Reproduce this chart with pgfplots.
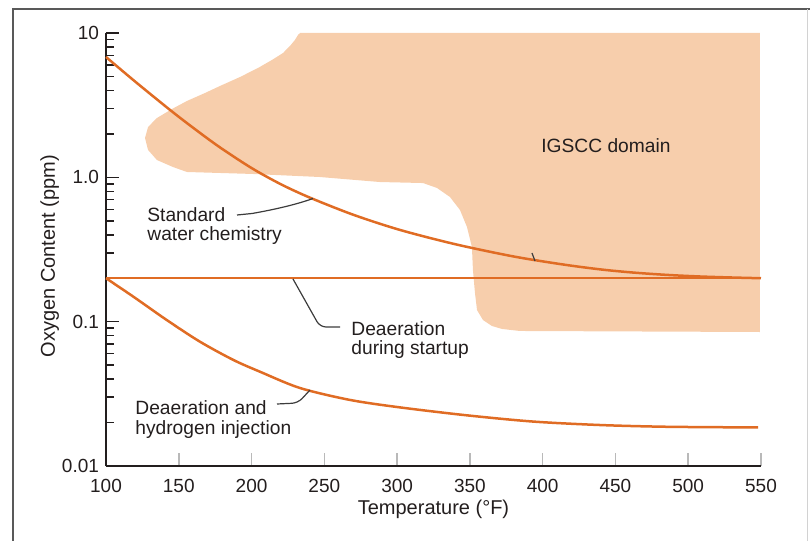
\documentclass[border=0pt]{standalone}
\usepackage{pgfplots}
\pgfplotsset{compat=1.18}
\usepackage{fontspec}
\setmainfont{Liberation Sans}

\definecolor{curve}{RGB}{224,108,36}
\definecolor{domain}{RGB}{247,206,172}
\definecolor{ink}{RGB}{35,30,30}
\definecolor{pointer}{RGB}{60,60,60}
\newcommand{\annfont}{\fontsize{9.6}{11}\selectfont}

\begin{document}
\begin{tikzpicture}
\begin{axis}[
  at={(0,0)}, anchor=south west,
  scale only axis, width=327.5pt, height=216.5pt,
  xmin=100, xmax=550, ymin=0.01, ymax=10, ymode=log,
  clip=false,
  axis x line*=bottom, axis y line*=left,
  axis line style={-, line width=1pt, ink},
  xtick={100,150,...,550},
  ytick={0.01,0.1,1,10}, yticklabels={0.01,0.1,1.0,10},
  minor ytick={0.02,0.03,0.04,0.05,0.06,0.07,0.08,0.09,
               0.2,0.3,0.4,0.5,0.6,0.7,0.8,0.9,
               2,3,4,5,6,7,8,9},
  tick align=inside,
  major tick length=6.5pt, minor tick length=4pt,
  xtick style={gray!55, line width=0.8pt},
  ytick style={ink, line width=0.8pt},
  /pgf/number format/assume math mode=true,
  ticklabel style={font=\fontsize{9.5}{11}\selectfont, text=ink},
  xticklabel style={yshift=-3.3pt},
  xlabel={Temperature (°F)},
  ylabel={Oxygen Content (ppm)},
  label style={font=\fontsize{10}{12}\selectfont, text=ink},
  xlabel style={at={(axis description cs:0.5,-0.111)}, anchor=base},
  ylabel style={at={(axis description cs:-0.0779,0.485)}, anchor=base, rotate=0},
]

% IGSCC domain
\addplot[fill=domain, draw=none] coordinates {
  (233.3,10) (549.3,10) (549.3,0.0848) (384.4,0.0862) (372.1,0.0890)
  (365.2,0.0933) (359.0,0.1027) (354.9,0.1204) (353.5,0.158) (352.1,0.228)
  (351.4,0.329) (348.0,0.453) (343.2,0.594) (336.3,0.731) (327.4,0.844)
  (317.8,0.913) (288.2,0.928) (247.0,1.005) (201.0,1.055) (155.6,1.089)
  (146.0,1.179) (135.0,1.318) (128.9,1.547) (126.8,1.873) (128.9,2.233)
  (135.0,2.577) (145.3,2.975) (155.6,3.380) (168.0,3.840) (178.3,4.294)
  (192.1,4.957) (204.4,5.722) (214.0,6.501) (221.6,7.267) (226.4,8.127)
  (229.8,8.944) (231.9,9.685)
} -- cycle;

% Standard water chemistry
\addplot[curve, line width=1.25pt, smooth] coordinates {
  (100,6.82) (120,4.61) (144,2.93) (160,2.20) (178,1.62) (200,1.16)
  (220,0.897) (240,0.724) (270,0.550) (302,0.432) (340,0.344)
  (380,0.283) (414,0.249) (440,0.230) (462,0.219) (485,0.211)
  (508,0.2056) (530,0.2023) (550,0.2)
};

% Deaeration during startup
\addplot[curve, line width=1.25pt] coordinates {(100,0.2) (550,0.2)};

% Deaeration and hydrogen injection
\addplot[curve, line width=1.25pt, smooth] coordinates {
  (100,0.2) (118.8,0.149) (141.7,0.1027) (164.6,0.0726) (187.5,0.0543)
  (205.8,0.045) (233.3,0.0347) (267.6,0.0287) (302,0.02547) (348,0.02244)
  (393.4,0.02032) (439.4,0.01923) (485.4,0.0187) (548,0.0185)
};
\end{axis}

% annotations, laid out on a 0.5pt grid from the top-left corner
\begin{scope}[x=0.5pt, y=-0.5pt, shift={(-53pt,233pt)}]
  \draw[gray!70!black, line width=0.75pt] (13,541) -- (13,9) -- (810,9);
  \draw[gray!35, line width=0.5pt] (807,9) -- (807,541);

  \draw[pointer, line width=0.6pt] (237,215) -- (252,213.5)
       .. controls (272,210) and (295,205) .. (313,198.5);
  \draw[pointer, line width=0.6pt, rounded corners=3pt] (293,279) -- (320,327) -- (340,327);
  \draw[pointer, line width=0.6pt, rounded corners=3pt] (277,404) -- (298,403) -- (310,390);
  \draw[pointer, line width=0.6pt] (532,253) -- (535,261);

  \begin{scope}[every node/.style={anchor=base west, inner sep=0pt, text=ink, font=\annfont}]
    \node at (147,222) {Standard};
    \node at (147,241) {water chemistry};
    \node at (351,336) {Deaeration};
    \node at (351,355) {during startup};
    \node at (135,415) {Deaeration and};
    \node at (135,434) {hydrogen injection};
    \node at (541,152.7) {IGSCC domain};
  \end{scope}
\end{scope}

\pgfresetboundingbox
\useasboundingbox (-53pt,-37.5pt) rectangle (352pt,233pt);
\end{tikzpicture}
\end{document}
